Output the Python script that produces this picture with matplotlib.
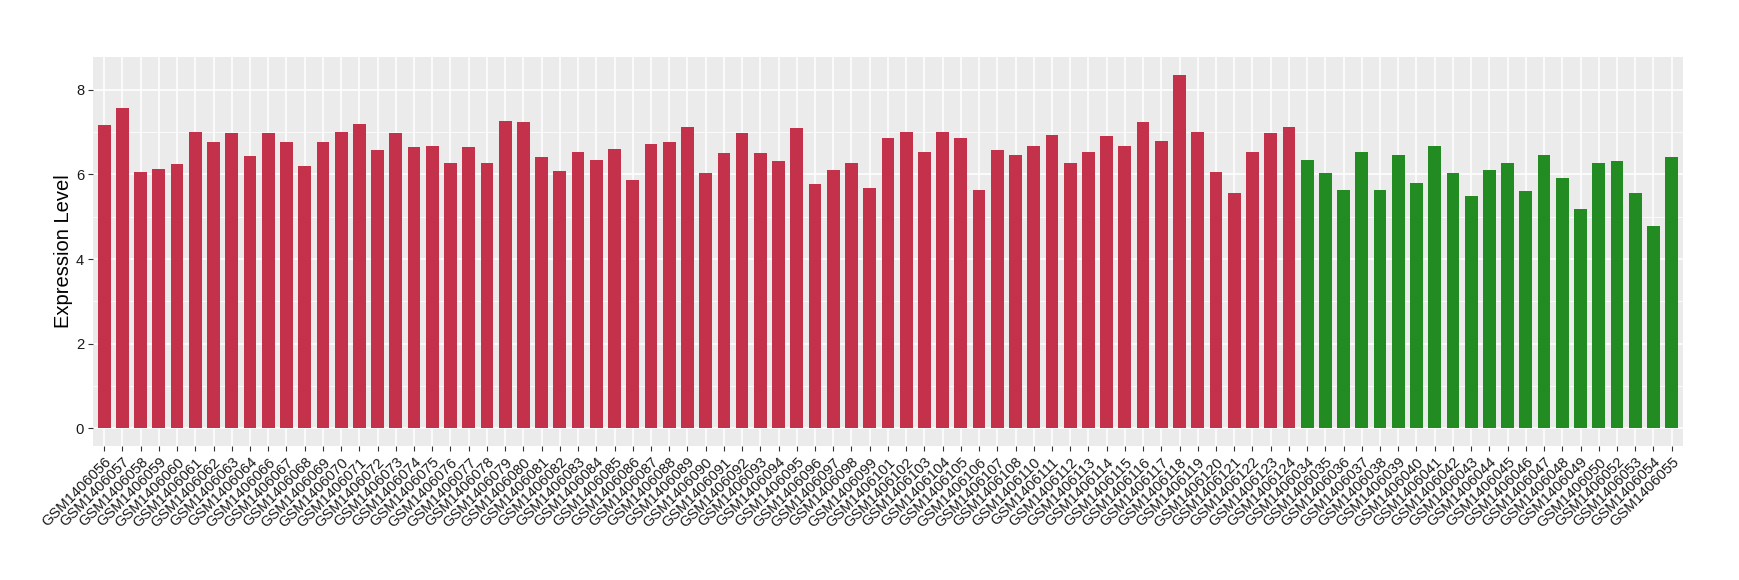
import matplotlib
matplotlib.use("Agg")
import matplotlib.pyplot as plt
from matplotlib.ticker import MultipleLocator

plt.rcParams['font.family'] = ['Liberation Sans', 'DejaVu Sans']

red_samples = ["GSM1406056", "GSM1406057", "GSM1406058", "GSM1406059", "GSM1406060",
               "GSM1406061", "GSM1406062", "GSM1406063", "GSM1406064", "GSM1406066",
               "GSM1406067", "GSM1406068", "GSM1406069", "GSM1406070", "GSM1406071",
               "GSM1406072", "GSM1406073", "GSM1406074", "GSM1406075", "GSM1406076",
               "GSM1406077", "GSM1406078", "GSM1406079", "GSM1406080", "GSM1406081",
               "GSM1406082", "GSM1406083", "GSM1406084", "GSM1406085", "GSM1406086",
               "GSM1406087", "GSM1406088", "GSM1406089", "GSM1406090", "GSM1406091",
               "GSM1406092", "GSM1406093", "GSM1406094", "GSM1406095", "GSM1406096",
               "GSM1406097", "GSM1406098", "GSM1406099", "GSM1406101", "GSM1406102",
               "GSM1406103", "GSM1406104", "GSM1406105", "GSM1406106", "GSM1406107",
               "GSM1406108", "GSM1406110", "GSM1406111", "GSM1406112", "GSM1406113",
               "GSM1406114", "GSM1406115", "GSM1406116", "GSM1406117", "GSM1406118",
               "GSM1406119", "GSM1406120", "GSM1406121", "GSM1406122", "GSM1406123",
               "GSM1406124"]
red_values = [7.16, 7.56, 6.05, 6.12, 6.24, 7.01, 6.76, 6.97, 6.43, 6.99,
              6.76, 6.21, 6.76, 7.01, 7.20, 6.57, 6.97, 6.64, 6.66, 6.28,
              6.64, 6.28, 7.27, 7.25, 6.40, 6.07, 6.54, 6.33, 6.59, 5.86,
              6.71, 6.76, 7.11, 6.03, 6.50, 6.99, 6.50, 6.31, 7.09, 5.77,
              6.10, 6.26, 5.67, 6.87, 7.01, 6.54, 7.01, 6.87, 5.62, 6.57,
              6.47, 6.68, 6.94, 6.26, 6.52, 6.90, 6.66, 7.23, 6.78, 8.36,
              7.01, 6.05, 5.55, 6.52, 6.97, 7.13]

green_samples = ["GSM1406034", "GSM1406035", "GSM1406036", "GSM1406037", "GSM1406038",
                 "GSM1406039", "GSM1406040", "GSM1406041", "GSM1406042", "GSM1406043",
                 "GSM1406044", "GSM1406045", "GSM1406046", "GSM1406047", "GSM1406048",
                 "GSM1406049", "GSM1406050", "GSM1406052", "GSM1406053", "GSM1406054",
                 "GSM1406055"]
green_values = [6.33, 6.03, 5.62, 6.52, 5.62, 6.47, 5.79, 6.66, 6.03, 5.48,
                6.10, 6.28, 5.60, 6.47, 5.91, 5.18, 6.26, 6.31, 5.55, 4.78,
                6.40]

red_color = "#C3314A"
green_color = "#228B22"

samples = red_samples + green_samples
values = red_values + green_values
colors = [red_color] * len(red_samples) + [green_color] * len(green_samples)

fig = plt.figure(figsize=(17.4, 5.8), dpi=100)
ax = fig.add_axes([0.0536, 0.231, 0.9134, 0.671])
ax.set_facecolor("#EBEBEB")

x = list(range(len(samples)))
ax.bar(x, values, width=0.7, color=colors, zorder=3)

ax.set_xlim(-0.6, len(samples) - 0.4)
ymax = max(values)
ax.set_ylim(-0.05 * ymax, ymax * 1.05)

ax.yaxis.set_major_locator(MultipleLocator(2))
ax.yaxis.set_minor_locator(MultipleLocator(1))
ax.grid(which='major', axis='both', color='white', linewidth=1.1, zorder=0)
ax.grid(which='minor', axis='y', color='white', linewidth=0.55, zorder=0)
ax.set_axisbelow(True)

ax.set_xticks(x)
ax.set_xticklabels(samples, rotation=45, ha='right', va='top',
                   rotation_mode='anchor', fontsize=10.6, color='#1A1A1A')
ax.tick_params(axis='x', which='major', length=3.5, width=0.8, color='#333333',
               labelsize=10.6, labelcolor='#1A1A1A', pad=3)
ax.tick_params(axis='y', which='major', length=3.5, width=0.8, color='#333333',
               labelsize=10.6, labelcolor='#1A1A1A', pad=3)
ax.tick_params(axis='y', which='minor', length=0)

for s in ax.spines.values():
    s.set_visible(False)

ax.set_ylabel("Expression Level", fontsize=14.5)
ax.yaxis.set_label_coords(-0.0128, 0.5)

fig.savefig("out.png", dpi=100, facecolor='white')
